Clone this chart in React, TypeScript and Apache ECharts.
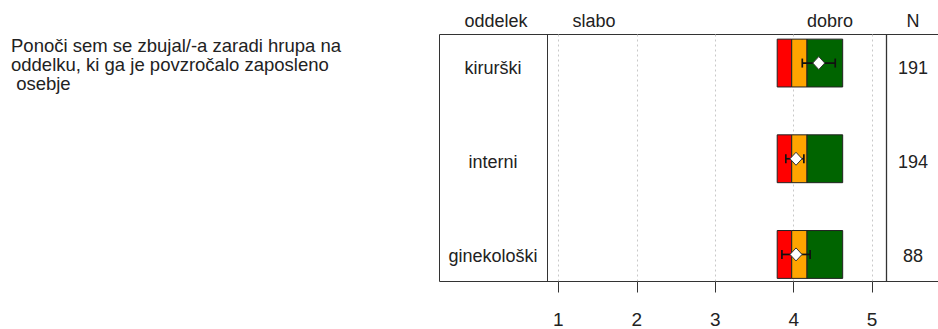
import React, { useEffect, useRef } from "react";
import * as echarts from "echarts";

const departments = ["kirurški", "interni", "ginekološki"];
const counts = ["191", "194", "88"];
const redStart = [3.79, 3.79, 3.79];
const orangeStart = [3.975, 3.975, 3.975];
const greenStart = [4.17, 4.17, 4.17];
const greenEnd = [4.625, 4.625, 4.625];
const means = [4.32, 4.03, 4.03];
const ciLow = [4.11, 3.9, 3.85];
const ciHigh = [4.53, 4.13, 4.21];
const tickValues = [1, 2, 3, 4, 5];
const headers = ["oddelek", "slabo", "dobro", "N"];
const questionLines = [
  "Ponoči sem se zbujal/-a zaradi hrupa na",
  "oddelku, ki ga je povzročalo zaposleno",
  " osebje",
];

const X_MIN = 0.855;
const X_MAX = 5.19;
const FONT = "'Liberation Sans', Arial, sans-serif";
const LINE = "#333333";

export default function App() {
  const ref = useRef<HTMLDivElement>(null);

  useEffect(() => {
    if (!ref.current) return;
    const chart = echarts.init(ref.current, null, { renderer: "svg" });

    const data = departments.map((_, i) => [
      redStart[i],
      orangeStart[i],
      greenStart[i],
      greenEnd[i],
      i,
      means[i],
      ciLow[i],
      ciHigh[i],
    ]);

    const renderItem = (params: any, api: any) => {
      const idx = api.value(4);
      const cy = api.coord([api.value(0), idx])[1];
      const h = api.size([0, 1])[1] * 0.5;
      const x0 = api.coord([api.value(0), idx])[0];
      const x1 = api.coord([api.value(1), idx])[0];
      const x2 = api.coord([api.value(2), idx])[0];
      const x3 = api.coord([api.value(3), idx])[0];
      const xm = api.coord([api.value(5), idx])[0];
      const xl = api.coord([api.value(6), idx])[0];
      const xh = api.coord([api.value(7), idx])[0];
      const top = cy - h / 2;
      const seg = (a: number, b: number, color: string) => ({
        type: "rect",
        shape: { x: a, y: top, width: b - a, height: h },
        style: { fill: color, stroke: "#222222", lineWidth: 1 },
      });
      const ln = (ax: number, ay: number, bx: number, by: number) => ({
        type: "line",
        shape: { x1: ax, y1: ay, x2: bx, y2: by },
        style: { stroke: "#111111", lineWidth: 1.7 },
      });
      const dw = 6;
      const dh = 6.5;
      return {
        type: "group",
        children: [
          seg(x0, x1, "#FF0000"),
          seg(x1, x2, "#FFA500"),
          seg(x2, x3, "#006400"),
          ln(xl, cy, xh, cy),
          ln(xl, cy - 4.5, xl, cy + 4.5),
          ln(xh, cy - 4.5, xh, cy + 4.5),
          {
            type: "polygon",
            shape: {
              points: [
                [xm - dw, cy],
                [xm, cy - dh],
                [xm + dw, cy],
                [xm, cy + dh],
              ],
            },
            style: { fill: "#ffffff", stroke: LINE, lineWidth: 1 },
          },
        ],
      };
    };

    const headerX = [496, 594, 830, 913];

    const option: any = {
      animation: false,
      textStyle: { fontFamily: FONT },
      grid: [
        { left: 547, width: 340, top: 15.2, height: 287.1, containLabel: false },
        { left: 547, width: 340, top: 34.5, height: 247, containLabel: false },
        { left: 547, width: 340, top: 21, height: 282, containLabel: false },
      ],
      xAxis: [
        { type: "value", gridIndex: 0, min: X_MIN, max: X_MAX, show: false },
        {
          type: "value",
          gridIndex: 1,
          min: X_MIN,
          max: X_MAX,
          axisLine: { show: false },
          axisTick: {
            show: true,
            customValues: tickValues,
            length: 11,
            lineStyle: { color: LINE, width: 1 },
          },
          axisLabel: {
            show: true,
            customValues: tickValues,
            margin: 28,
            fontSize: 19,
            color: "#222222",
            fontFamily: FONT,
          },
          splitLine: {
            show: true,
            lineStyle: { color: "#c8c8c8", type: [2, 3], width: 1 },
          },
        },
        { type: "value", gridIndex: 2, min: 0, max: 1, show: false },
      ],
      yAxis: [
        {
          type: "category",
          gridIndex: 0,
          data: departments,
          inverse: true,
          show: false,
        },
        { type: "value", gridIndex: 1, min: 0, max: 1, show: false },
        {
          type: "category",
          gridIndex: 2,
          data: departments,
          inverse: true,
          axisLine: { show: false },
          axisTick: { show: false },
          splitLine: { show: false },
          axisLabel: {
            margin: 54,
            align: "center",
            fontSize: 18,
            color: "#222222",
            fontFamily: FONT,
          },
        },
        {
          type: "category",
          gridIndex: 2,
          position: "right",
          data: counts,
          inverse: true,
          axisLine: { show: false },
          axisTick: { show: false },
          splitLine: { show: false },
          axisLabel: {
            margin: 26,
            align: "center",
            fontSize: 18,
            color: "#222222",
            fontFamily: FONT,
          },
        },
      ],
      series: [
        {
          type: "custom",
          xAxisIndex: 0,
          yAxisIndex: 0,
          renderItem,
          data,
          encode: { x: [0, 1, 2, 3, 5, 6, 7], y: 4 },
          clip: false,
          z: 5,
        },
      ],
      graphic: [
        { type: "line", shape: { x1: 439.5, y1: 34.5, x2: 940, y2: 34.5 }, style: { stroke: LINE, lineWidth: 1 } },
        { type: "line", shape: { x1: 439.5, y1: 281.5, x2: 940, y2: 281.5 }, style: { stroke: LINE, lineWidth: 1 } },
        { type: "line", shape: { x1: 439.5, y1: 34.5, x2: 439.5, y2: 281.5 }, style: { stroke: LINE, lineWidth: 1 } },
        { type: "line", shape: { x1: 547.5, y1: 34.5, x2: 547.5, y2: 281.5 }, style: { stroke: LINE, lineWidth: 1 } },
        { type: "line", shape: { x1: 886.5, y1: 34.5, x2: 886.5, y2: 281.5 }, style: { stroke: LINE, lineWidth: 1.3 } },
        ...headers.map((t, i) => ({
          type: "text",
          x: headerX[i],
          y: 21,
          style: {
            text: t,
            fontSize: 18,
            fontFamily: FONT,
            fill: "#222222",
            textAlign: "center",
            textVerticalAlign: "middle",
          },
        })),
        ...questionLines.map((t, i) => ({
          type: "text",
          x: 11,
          y: 45 + i * 19,
          style: {
            text: t,
            fontSize: 18.5,
            fontFamily: FONT,
            fill: "#222222",
            textAlign: "left",
            textVerticalAlign: "middle",
          },
        })),
      ],
    };

    chart.setOption(option);
    return () => chart.dispose();
  }, []);

  return (
    <div
      ref={ref}
      style={{ position: "fixed", left: 0, top: 0, width: 938, height: 329, background: "#ffffff" }}
    />
  );
}
